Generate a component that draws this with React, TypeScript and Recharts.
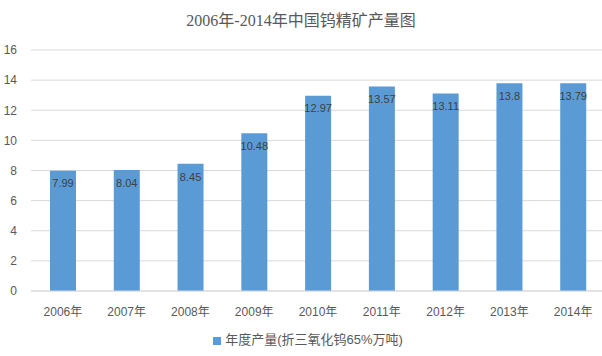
import { BarChart, Bar, XAxis, YAxis, CartesianGrid, Legend, LabelList } from "recharts";

// 年份（类目）
const years = ["2006年", "2007年", "2008年", "2009年", "2010年", "2011年", "2012年", "2013年", "2014年"];
// 年度产量（折三氧化钨65%万吨）
const output = [7.99, 8.04, 8.45, 10.48, 12.97, 13.57, 13.11, 13.8, 13.79];
// Y 轴刻度
const yTicks = [0, 2, 4, 6, 8, 10, 12, 14, 16];

const seriesName = "年度产量(折三氧化钨65%万吨)";
const title = "2006年-2014年中国钨精矿产量图";

const data = years.map((y, i) => ({ name: y, value: output[i] }));

const FONT = '"Liberation Sans", "Noto Sans CJK SC", sans-serif';

export default function App() {
  return (
    <div
      style={{
        position: "absolute",
        top: 0,
        left: 0,
        width: 602,
        height: 356,
        overflow: "hidden",
        background: "#ffffff",
        fontFamily: FONT,
      }}
    >
      {/* 标题 */}
      <div
        style={{
          position: "absolute",
          top: 7,
          left: 0,
          width: 602,
          textAlign: "center",
          fontSize: 16,
          color: "#595959",
          fontFamily: '"Liberation Serif", "Noto Sans CJK SC", serif',
        }}
      >
        {title}
      </div>

      <BarChart
        width={605}
        height={356}
        data={data}
        margin={{ top: 50, right: 0, bottom: 8, left: 0 }}
        barSize={26}
      >
        <CartesianGrid vertical={false} stroke="#d9d9d9" />
        <XAxis
          dataKey="name"
          axisLine={{ stroke: "#d9d9d9" }}
          tickLine={false}
          tick={{ fill: "#595959", fontSize: 12, fontFamily: FONT }}
          tickMargin={10}
          height={38}
        />
        <YAxis
          width={31}
          domain={[0, 16]}
          ticks={yTicks}
          axisLine={false}
          tickLine={false}
          tick={{ fill: "#595959", fontSize: 12, fontFamily: FONT }}
          tickMargin={8}
        />
        <Legend
          verticalAlign="bottom"
          iconType="square"
          iconSize={8}
          wrapperStyle={{ fontSize: 13, color: "#595959", fontFamily: FONT, left: 21, width: 584 }}
          formatter={(v) => <span style={{ color: "#595959" }}>{v}</span>}
        />
        <Bar dataKey="value" name={seriesName} fill="#5b9bd5" isAnimationActive={false}>
          <LabelList
            dataKey="value"
            position="insideTop"
            offset={9}
            fill="#404040"
            fontSize={11}
            fontFamily={FONT}
          />
        </Bar>
      </BarChart>
    </div>
  );
}
